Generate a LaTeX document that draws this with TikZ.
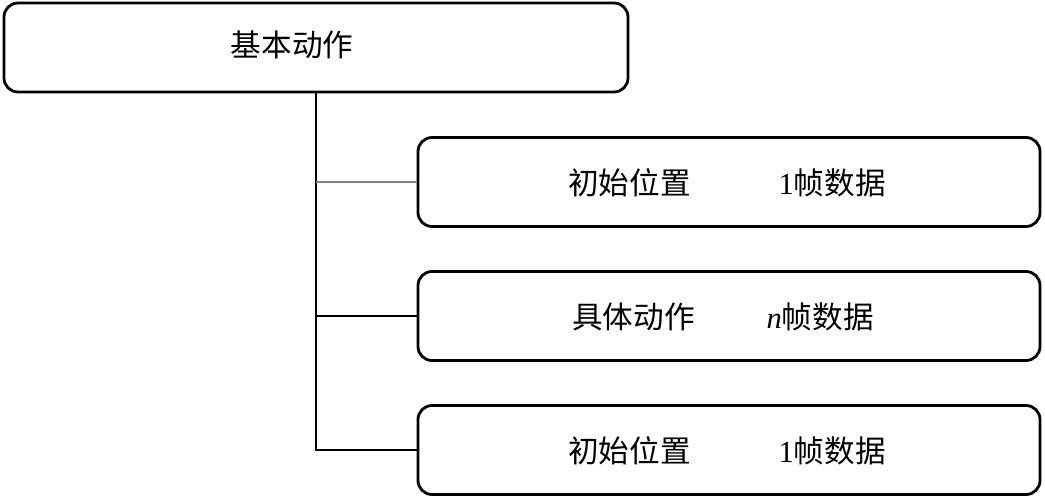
\documentclass[tikz,border=0pt]{standalone}
\usepackage{fontspec}
\setmainfont{Liberation Serif}
\newfontfamily\cjk{Noto Sans CJK SC}
\usetikzlibrary{positioning}
\begin{document}
\begin{tikzpicture}[x=0.5pt,y=-0.5pt,
  box/.style={draw,line width=1.4pt,rounded corners=7pt,minimum height=44.5pt,inner sep=0pt},
  topbox/.style={box,minimum width=312pt},
  subbox/.style={box,minimum width=311pt},
  txt/.style={font=\fontsize{15.3}{18}\selectfont},
  link/.style={line width=0.7pt}]
		\useasboundingbox (0,0) rectangle (1045,498);
		% top level
		\node[topbox] (top) at (316,47.5) {};
		\node[txt] (toptext) at (292,45) {\cjk 基本动作};
		% frames
		\node[subbox] (first) at (729,182) {};
		\node[txt] at (727,183) {\cjk 初始位置\hspace{44pt}\rmfamily 1\cjk 帧数据};
		\node[subbox] (action) at (729,316) {};
		\node[txt] at (723,317) {\cjk 具体动作\hspace{36pt}\rmfamily\textit{n}\cjk 帧数据};
		\node[subbox] (last) at (729,450) {};
		\node[txt] at (727,451) {\cjk 初始位置\hspace{44pt}\rmfamily 1\cjk 帧数据};
		% connectors
		\draw[link] (top.south) |- (last.west);
		\draw[link,gray] (top.south |- first.west) -- (first.west);
		\draw[link] (top.south |- action.west) -- (action.west);
\end{tikzpicture}
\end{document}
